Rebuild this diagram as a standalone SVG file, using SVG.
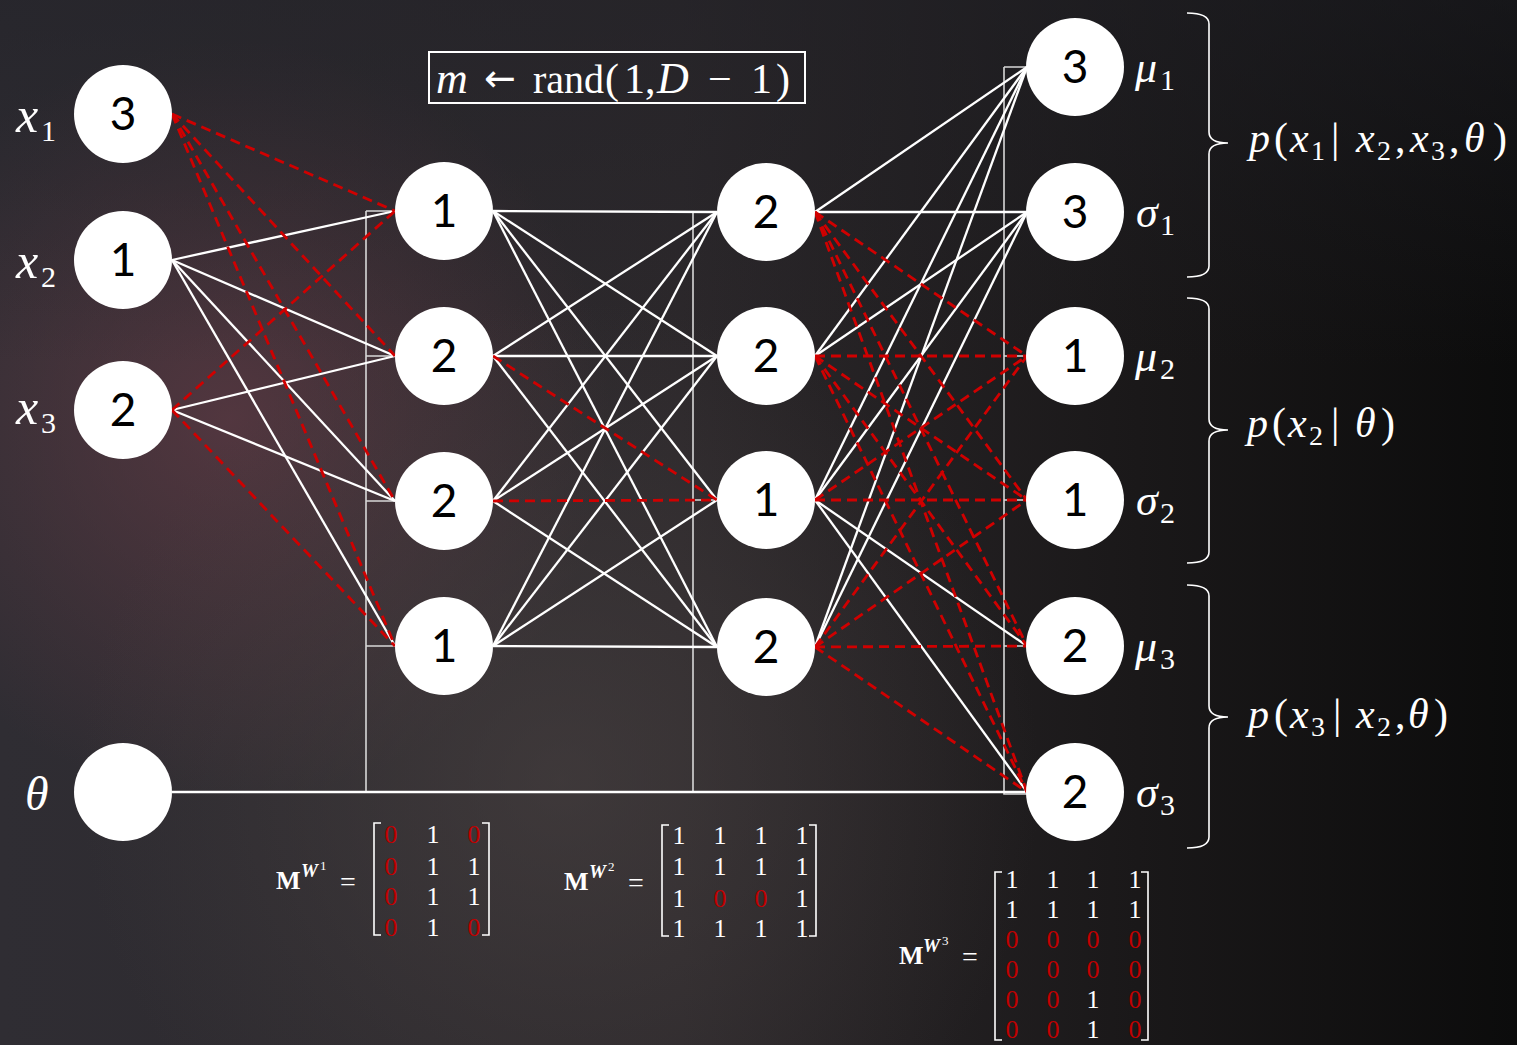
<svg xmlns="http://www.w3.org/2000/svg" width="1517" height="1045" viewBox="0 0 1517 1045">
<defs>
<linearGradient id="bgL" x1="0" y1="0" x2="1" y2="0">
<stop offset="0" stop-color="#2f2d33"/>
<stop offset="0.45" stop-color="#2c282b"/>
<stop offset="0.75" stop-color="#1a1819"/>
<stop offset="1" stop-color="#0c0c0c"/>
</linearGradient>
<radialGradient id="glowR" cx="230" cy="420" r="380" gradientUnits="userSpaceOnUse">
<stop offset="0" stop-color="#5e3a44" stop-opacity="0.75"/>
<stop offset="1" stop-color="#5e3a44" stop-opacity="0"/>
</radialGradient>
<radialGradient id="glowG" cx="560" cy="780" r="480" gradientUnits="userSpaceOnUse">
<stop offset="0" stop-color="#4a4343" stop-opacity="0.6"/>
<stop offset="1" stop-color="#4a4343" stop-opacity="0"/>
</radialGradient>
<linearGradient id="topDark" x1="0" y1="0" x2="0" y2="1">
<stop offset="0" stop-color="#202026" stop-opacity="0.5"/>
<stop offset="0.35" stop-color="#202026" stop-opacity="0"/>
</linearGradient>
<style>
.node circle{fill:#ffffff}
.node text{font-family:Lato,"Open Sans",sans-serif;font-size:46px;fill:#000;text-anchor:middle}
.w{stroke:#ffffff;stroke-width:2.3;fill:none}
.r{stroke:#d00000;stroke-width:2.8;stroke-dasharray:10 6;fill:none}
.bias{stroke:#d8d8d8;stroke-width:1.6;fill:none}
.math{font-family:"Liberation Serif",serif;fill:#ffffff}
.it{font-style:italic}
.mx{font-family:"Liberation Serif",serif;font-size:26px;fill:#ffffff;text-anchor:middle}
.red{fill:#c00000}
.br{stroke:#ffffff;stroke-width:1.6;fill:none}
</style>
</defs>
<rect width="1517" height="1045" fill="url(#bgL)"/>
<rect width="1517" height="1045" fill="url(#glowR)"/>
<rect width="1517" height="1045" fill="url(#glowG)"/>
<rect width="1517" height="1045" fill="url(#topDark)"/>

<g id="connectors">
<path class="bias" d="M366 211 V792 M366 211 H395 M366 356 H395 M366 501 H395 M366 646 H395"/>
<path class="bias" d="M693 212 V792 M693 212 H717 M693 356 H717 M693 500 H717 M693 647 H717"/>
<path class="bias" d="M1004 67 V794 H1027 M1004 67 H1027 M1004 212 H1027 M1004 356 H1027 M1004 500 H1027 M1004 646 H1027"/>
<line class="w" x1="172" y1="792" x2="1027" y2="792" stroke-width="3"/>
<line class="w" x1="172" y1="260" x2="395" y2="211"/>
<line class="w" x1="172" y1="260" x2="395" y2="356"/>
<line class="w" x1="172" y1="260" x2="395" y2="501"/>
<line class="w" x1="172" y1="260" x2="395" y2="646"/>
<line class="w" x1="172" y1="410" x2="395" y2="356"/>
<line class="w" x1="172" y1="410" x2="395" y2="501"/>
<line class="w" x1="493" y1="211" x2="717" y2="212"/>
<line class="w" x1="493" y1="211" x2="717" y2="356"/>
<line class="w" x1="493" y1="211" x2="717" y2="500"/>
<line class="w" x1="493" y1="211" x2="717" y2="647"/>
<line class="w" x1="493" y1="356" x2="717" y2="212"/>
<line class="w" x1="493" y1="356" x2="717" y2="356"/>
<line class="w" x1="493" y1="356" x2="717" y2="647"/>
<line class="w" x1="493" y1="501" x2="717" y2="212"/>
<line class="w" x1="493" y1="501" x2="717" y2="356"/>
<line class="w" x1="493" y1="501" x2="717" y2="647"/>
<line class="w" x1="493" y1="646" x2="717" y2="212"/>
<line class="w" x1="493" y1="646" x2="717" y2="356"/>
<line class="w" x1="493" y1="646" x2="717" y2="500"/>
<line class="w" x1="493" y1="646" x2="717" y2="647"/>
<line class="w" x1="815" y1="212" x2="1027" y2="67"/>
<line class="w" x1="815" y1="356" x2="1027" y2="67"/>
<line class="w" x1="815" y1="500" x2="1027" y2="67"/>
<line class="w" x1="815" y1="647" x2="1027" y2="67"/>
<line class="w" x1="815" y1="212" x2="1027" y2="212"/>
<line class="w" x1="815" y1="356" x2="1027" y2="212"/>
<line class="w" x1="815" y1="500" x2="1027" y2="212"/>
<line class="w" x1="815" y1="647" x2="1027" y2="212"/>
<line class="w" x1="815" y1="500" x2="1027" y2="646"/>
<line class="w" x1="815" y1="500" x2="1027" y2="792"/>
<line class="r" x1="172" y1="114" x2="395" y2="211"/>
<line class="r" x1="172" y1="114" x2="395" y2="356"/>
<line class="r" x1="172" y1="114" x2="395" y2="501"/>
<line class="r" x1="172" y1="114" x2="395" y2="646"/>
<line class="r" x1="172" y1="410" x2="395" y2="211"/>
<line class="r" x1="172" y1="410" x2="395" y2="646"/>
<line class="r" x1="493" y1="356" x2="717" y2="500"/>
<line class="r" x1="493" y1="501" x2="717" y2="500"/>
<line class="r" x1="815" y1="212" x2="1027" y2="356"/>
<line class="r" x1="815" y1="356" x2="1027" y2="356"/>
<line class="r" x1="815" y1="500" x2="1027" y2="356"/>
<line class="r" x1="815" y1="647" x2="1027" y2="356"/>
<line class="r" x1="815" y1="212" x2="1027" y2="500"/>
<line class="r" x1="815" y1="356" x2="1027" y2="500"/>
<line class="r" x1="815" y1="500" x2="1027" y2="500"/>
<line class="r" x1="815" y1="647" x2="1027" y2="500"/>
<line class="r" x1="815" y1="212" x2="1027" y2="646"/>
<line class="r" x1="815" y1="356" x2="1027" y2="646"/>
<line class="r" x1="815" y1="647" x2="1027" y2="646"/>
<line class="r" x1="815" y1="212" x2="1027" y2="792"/>
<line class="r" x1="815" y1="356" x2="1027" y2="792"/>
<line class="r" x1="815" y1="647" x2="1027" y2="792"/>
</g>

<g id="in-x1" class="node"><circle cx="123" cy="114" r="49"/><text x="123" y="130">3</text></g>
<g id="in-x2" class="node"><circle cx="123" cy="260" r="49"/><text x="123" y="276">1</text></g>
<g id="in-x3" class="node"><circle cx="123" cy="410" r="49"/><text x="123" y="426">2</text></g>
<g id="in-theta" class="node"><circle cx="123" cy="792" r="49"/></g>

<g id="h1-1" class="node"><circle cx="444" cy="211" r="49"/><text x="444" y="227">1</text></g>
<g id="h1-2" class="node"><circle cx="444" cy="356" r="49"/><text x="444" y="372">2</text></g>
<g id="h1-3" class="node"><circle cx="444" cy="501" r="49"/><text x="444" y="517">2</text></g>
<g id="h1-4" class="node"><circle cx="444" cy="646" r="49"/><text x="444" y="662">1</text></g>

<g id="h2-1" class="node"><circle cx="766" cy="212" r="49"/><text x="766" y="228">2</text></g>
<g id="h2-2" class="node"><circle cx="766" cy="356" r="49"/><text x="766" y="372">2</text></g>
<g id="h2-3" class="node"><circle cx="766" cy="500" r="49"/><text x="766" y="516">1</text></g>
<g id="h2-4" class="node"><circle cx="766" cy="647" r="49"/><text x="766" y="663">2</text></g>

<g id="out-mu1" class="node"><circle cx="1075" cy="67" r="49"/><text x="1075" y="83">3</text></g>
<g id="out-sigma1" class="node"><circle cx="1075" cy="212" r="49"/><text x="1075" y="228">3</text></g>
<g id="out-mu2" class="node"><circle cx="1075" cy="356" r="49"/><text x="1075" y="372">1</text></g>
<g id="out-sigma2" class="node"><circle cx="1075" cy="500" r="49"/><text x="1075" y="516">1</text></g>
<g id="out-mu3" class="node"><circle cx="1075" cy="646" r="49"/><text x="1075" y="662">2</text></g>
<g id="out-sigma3" class="node"><circle cx="1075" cy="792" r="49"/><text x="1075" y="808">2</text></g>

<g id="labels-left" class="math">
<text font-size="50"><tspan class="it" x="16" y="132">x</tspan><tspan x="41" y="141" font-size="30">1</tspan></text>
<text font-size="50"><tspan class="it" x="16" y="278">x</tspan><tspan x="41" y="287" font-size="30">2</tspan></text>
<text font-size="50"><tspan class="it" x="16" y="424">x</tspan><tspan x="41" y="433" font-size="30">3</tspan></text>
<text font-size="48" class="it" x="25" y="810">θ</text>
</g>

<g id="labels-right" class="math">
<text font-size="44"><tspan class="it" x="1135" y="82">μ</tspan><tspan x="1160" y="90" font-size="30">1</tspan></text>
<text font-size="44"><tspan class="it" x="1136" y="227">σ</tspan><tspan x="1160" y="235" font-size="30">1</tspan></text>
<text font-size="44"><tspan class="it" x="1135" y="371">μ</tspan><tspan x="1160" y="379" font-size="30">2</tspan></text>
<text font-size="44"><tspan class="it" x="1136" y="515">σ</tspan><tspan x="1160" y="523" font-size="30">2</tspan></text>
<text font-size="44"><tspan class="it" x="1135" y="661">μ</tspan><tspan x="1160" y="669" font-size="30">3</tspan></text>
<text font-size="44"><tspan class="it" x="1136" y="807">σ</tspan><tspan x="1160" y="815" font-size="30">3</tspan></text>
</g>

<g id="braces" class="br" stroke-width="2">
<path d="M1187 13 Q1209 13 1209 24 V132 Q1209 143 1228 143 Q1209 143 1209 154 V266 Q1209 277 1187 277"/>
<path d="M1187 298 Q1209 298 1209 309 V419 Q1209 430 1228 430 Q1209 430 1209 441 V552 Q1209 563 1187 563"/>
<path d="M1187 585 Q1209 585 1209 596 V706 Q1209 717 1228 717 Q1209 717 1209 728 V837 Q1209 848 1187 848"/>
</g>

<g id="cond-labels" class="math" font-size="42">
<text><tspan class="it" x="1249" y="152">p</tspan><tspan x="1274" y="152">(</tspan><tspan class="it" x="1290" y="152">x</tspan><tspan x="1311" y="160" font-size="28">1</tspan><tspan x="1331" y="152">|</tspan><tspan class="it" x="1356" y="152">x</tspan><tspan x="1377" y="160" font-size="28">2</tspan><tspan x="1395" y="152">,</tspan><tspan class="it" x="1410" y="152">x</tspan><tspan x="1431" y="160" font-size="28">3</tspan><tspan x="1449" y="152">,</tspan><tspan class="it" x="1464" y="152">θ</tspan><tspan x="1493" y="152">)</tspan></text>
<text><tspan class="it" x="1247" y="437">p</tspan><tspan x="1272" y="437">(</tspan><tspan class="it" x="1288" y="437">x</tspan><tspan x="1309" y="445" font-size="28">2</tspan><tspan x="1331" y="437">|</tspan><tspan class="it" x="1355" y="437">θ</tspan><tspan x="1381" y="437">)</tspan></text>
<text><tspan class="it" x="1248" y="728">p</tspan><tspan x="1274" y="728">(</tspan><tspan class="it" x="1290" y="728">x</tspan><tspan x="1311" y="736" font-size="28">3</tspan><tspan x="1333" y="728">|</tspan><tspan class="it" x="1356" y="728">x</tspan><tspan x="1377" y="736" font-size="28">2</tspan><tspan x="1395" y="728">,</tspan><tspan class="it" x="1408" y="728">θ</tspan><tspan x="1434" y="728">)</tspan></text>
</g>

<g id="formula">
<rect x="429" y="52" width="376" height="51" fill="none" stroke="#ffffff" stroke-width="2"/>
<text class="math" font-size="42"><tspan class="it" x="436" y="93" font-size="44">m</tspan><tspan x="484" y="91" font-size="38" font-family="DejaVu Sans">←</tspan><tspan x="533" y="93" font-size="40">rand</tspan><tspan x="605" y="93">(</tspan><tspan x="624" y="93">1</tspan><tspan x="645" y="93">,</tspan><tspan class="it" x="657" y="93" font-size="44">D</tspan><tspan x="708" y="93">−</tspan><tspan x="751" y="93">1</tspan><tspan x="776" y="93">)</tspan></text>
</g>

<g id="matrix-w1">
<text class="math" font-size="26" font-weight="bold" x="276" y="889">M</text>
<text class="math" font-size="19" font-weight="bold" font-style="italic" x="301" y="877">W</text>
<text class="math" font-size="13" x="320" y="870">1</text>
<text class="math" font-size="28" x="340" y="891">=</text>
<path class="br" d="M381 823 H374 V935 H381 M482 823 H489 V935 H482"/>
<g class="mx">
<text x="391" y="843" class="red">0</text><text x="433" y="843">1</text><text x="474" y="843" class="red">0</text>
<text x="391" y="875" class="red">0</text><text x="433" y="875">1</text><text x="474" y="875">1</text>
<text x="391" y="905" class="red">0</text><text x="433" y="905">1</text><text x="474" y="905">1</text>
<text x="391" y="936" class="red">0</text><text x="433" y="936">1</text><text x="474" y="936" class="red">0</text>
</g>
</g>

<g id="matrix-w2">
<text class="math" font-size="26" font-weight="bold" x="564" y="890">M</text>
<text class="math" font-size="19" font-weight="bold" font-style="italic" x="589" y="878">W</text>
<text class="math" font-size="13" x="608" y="871">2</text>
<text class="math" font-size="28" x="628" y="892">=</text>
<path class="br" d="M669 825 H662 V936 H669 M809 825 H816 V936 H809"/>
<g class="mx">
<text x="679" y="844">1</text><text x="720" y="844">1</text><text x="761" y="844">1</text><text x="802" y="844">1</text>
<text x="679" y="875">1</text><text x="720" y="875">1</text><text x="761" y="875">1</text><text x="802" y="875">1</text>
<text x="679" y="907">1</text><text x="720" y="907" class="red">0</text><text x="761" y="907" class="red">0</text><text x="802" y="907">1</text>
<text x="679" y="937">1</text><text x="720" y="937">1</text><text x="761" y="937">1</text><text x="802" y="937">1</text>
</g>
</g>

<g id="matrix-w3">
<text class="math" font-size="26" font-weight="bold" x="899" y="964">M</text>
<text class="math" font-size="19" font-weight="bold" font-style="italic" x="923" y="952">W</text>
<text class="math" font-size="13" x="942" y="945">3</text>
<text class="math" font-size="28" x="962" y="966">=</text>
<path class="br" d="M1002 872 H995 V1040 H1002 M1141 872 H1148 V1040 H1141"/>
<g class="mx">
<text x="1012" y="888">1</text><text x="1053" y="888">1</text><text x="1093" y="888">1</text><text x="1135" y="888">1</text>
<text x="1012" y="918">1</text><text x="1053" y="918">1</text><text x="1093" y="918">1</text><text x="1135" y="918">1</text>
<text x="1012" y="948" class="red">0</text><text x="1053" y="948" class="red">0</text><text x="1093" y="948" class="red">0</text><text x="1135" y="948" class="red">0</text>
<text x="1012" y="978" class="red">0</text><text x="1053" y="978" class="red">0</text><text x="1093" y="978" class="red">0</text><text x="1135" y="978" class="red">0</text>
<text x="1012" y="1008" class="red">0</text><text x="1053" y="1008" class="red">0</text><text x="1093" y="1008">1</text><text x="1135" y="1008" class="red">0</text>
<text x="1012" y="1038" class="red">0</text><text x="1053" y="1038" class="red">0</text><text x="1093" y="1038">1</text><text x="1135" y="1038" class="red">0</text>
</g>
</g>
</svg>
